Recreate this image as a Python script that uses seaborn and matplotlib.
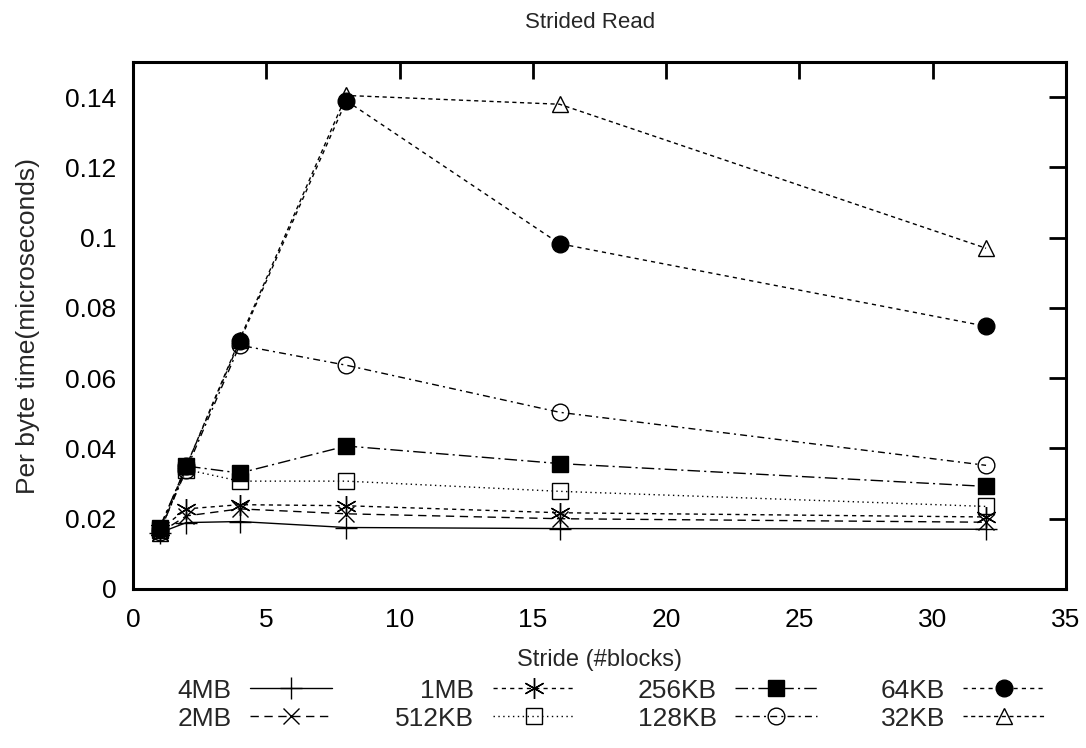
import numpy as np
import pandas as pd
import matplotlib
matplotlib.use("Agg")
import matplotlib.pyplot as plt
from matplotlib.ticker import FuncFormatter, MultipleLocator
import seaborn as sns

# Data
stride = [1, 2, 4, 8, 16, 32]
sizes = ['4MB', '2MB', '1MB', '512KB', '256KB', '128KB', '64KB', '32KB']
t_4mb = [0.0160, 0.0189, 0.0192, 0.0175, 0.0172, 0.0170]
t_2mb = [0.0160, 0.0208, 0.0228, 0.0214, 0.0200, 0.0190]
t_1mb = [0.0168, 0.0228, 0.0240, 0.0237, 0.0217, 0.0205]
t_512kb = [0.0168, 0.0340, 0.0307, 0.0307, 0.0278, 0.0235]
t_256kb = [0.0175, 0.0350, 0.0330, 0.0407, 0.0357, 0.0292]
t_128kb = [0.0163, 0.0340, 0.0694, 0.0637, 0.0503, 0.0352]
t_64kb = [0.0172, 0.0350, 0.0705, 0.1390, 0.0983, 0.0748]
t_32kb = [0.0160, 0.0350, 0.0710, 0.1405, 0.1380, 0.0970]
series = [t_4mb, t_2mb, t_1mb, t_512kb, t_256kb, t_128kb, t_64kb, t_32kb]

df = pd.DataFrame({
    'stride': stride * len(sizes),
    'time': np.concatenate(series),
    'size': np.repeat(sizes, len(stride)),
})

# gnuplot-like point and line styles
styles = {
    '4MB':   dict(marker='+', ls='-', mfc='black', ms=16),
    '2MB':   dict(marker='x', ls=(0, (6, 4)), mfc='black', ms=12),
    '1MB':   dict(marker=(6, 2, 0), ls=(0, (3, 3)), mfc='black', ms=15),
    '512KB': dict(marker='s', ls=(0, (1, 2.5)), mfc='none', ms=12),
    '256KB': dict(marker='s', ls=(0, (9, 3, 1.5, 3)), mfc='black', ms=12),
    '128KB': dict(marker='o', ls=(0, (5, 3, 1.5, 3)), mfc='none', ms=12),
    '64KB':  dict(marker='o', ls=(0, (3, 3)), mfc='black', ms=12),
    '32KB':  dict(marker='^', ls=(0, (3, 2.5)), mfc='none', ms=12),
}

sns.set_theme(style='white')
plt.rcParams['font.family'] = ['Liberation Sans', 'DejaVu Sans']

fig, ax = plt.subplots(figsize=(10.86, 7.48), dpi=100)
fig.subplots_adjust(left=0.1225, right=0.9816, top=0.917, bottom=0.2126)

for name in sizes:
    st = styles[name]
    sns.lineplot(data=df[df['size'] == name], x='stride', y='time', ax=ax,
                 color='black', linewidth=1.0, linestyle=st['ls'],
                 marker=st['marker'], markersize=st['ms'],
                 markerfacecolor=st['mfc'], markeredgecolor='black',
                 markeredgewidth=1.0, label=name)

ax.set_xlim(0, 35)
ax.set_ylim(0, 0.15)
ax.xaxis.set_major_locator(MultipleLocator(5))
ax.set_yticks(np.arange(0, 0.141, 0.02))
ax.yaxis.set_major_formatter(FuncFormatter(lambda v, p: '%g' % round(v, 4)))

for side in ax.spines.values():
    side.set_visible(True)
    side.set_color('black')
    side.set_linewidth(2.2)
ax.tick_params(direction='in', length=12, width=2, top=True, right=True,
               labelsize=19, colors='black')
ax.tick_params(axis='x', pad=14)
ax.tick_params(axis='y', pad=12)

fig.text(0.543, 1 - 22 / 748, 'Strided Read', fontsize=16,
         ha='center', va='center')
ax.set_xlabel('Stride (#blocks)', fontsize=17, labelpad=12)
ax.set_ylabel('Per byte time(microseconds)', fontsize=19, labelpad=18)

handles, labels = ax.get_legend_handles_labels()
ax.get_legend().remove()
fig.legend(handles, labels, loc='center', bbox_to_anchor=(0.563, 0.058),
           ncol=4, frameon=False, markerfirst=False, fontsize=19,
           handlelength=3.1, handletextpad=0.7, columnspacing=2.4,
           labelspacing=0.15)

fig.savefig('out.png', dpi=100)
